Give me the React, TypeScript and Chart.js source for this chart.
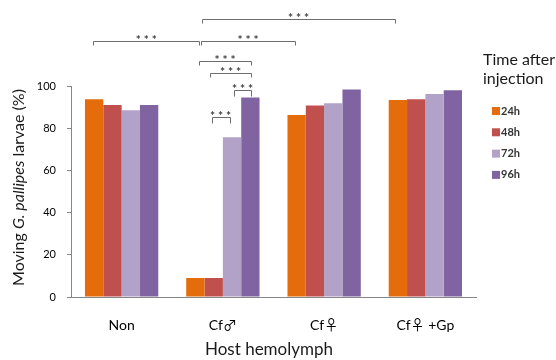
import React, { useEffect, useRef } from 'react';
import { Chart, registerables } from 'chart.js';

Chart.register(...registerables);

// ---- data ----
const categories = ['Non', 'Cf♂', 'Cf♀', 'Cf♀ +Gp'];
const seriesLabels = ['24h', '48h', '72h', '96h'];
const values24h = [93.7, 9.0, 86.3, 93.4];
const values48h = [91.0, 9.0, 90.7, 93.7];
const values72h = [88.5, 75.7, 91.8, 96.2];
const values96h = [91.0, 94.6, 98.4, 98.0];
const yTicks = [0, 20, 40, 60, 80, 100];
const legendTitle = ['Time after', 'injection'];
const xTitle = 'Host hemolymph';
const yTitleParts = [
  { text: 'Moving ', italic: false },
  { text: 'G. pallipes', italic: true },
  { text: ' larvae (%)', italic: false },
];
// significance brackets: endpoints as [category index, series index], height in axis units
const brackets = [
  { from: [0, 0], to: [1, 0], level: 121.5, label: '***' },
  { from: [1, 0], to: [3, 0], level: 131.6, label: '***' },
  { from: [1, 0], to: [2, 0], level: 121.5, label: '***' },
  { from: [1, 0], to: [1, 3], level: 112.0, label: '***' },
  { from: [1, 1], to: [1, 3], level: 106.0, label: '***' },
  { from: [1, 2], to: [1, 3], level: 98.1, label: '***' },
  { from: [1, 1], to: [1, 2], level: 85.3, label: '***' },
];

// ---- styles ----
const seriesColors = ['#E46C0A', '#C0504D', '#B3A2C7', '#8064A2'];
const bracketNudges = [
  [-1, 4], [6.5, -2.5], [6, -2], [4, 0.5], [-3.5, 0.5], [2, 0.5], [-2, -2.5],
];
const bracketDrops = [4, 4, 4, 4, 4, 6, 6];
const FONT = 'Lato, "Open Sans", sans-serif';
const CAT_FONT = 'Lato, "Noto Sans CJK SC", sans-serif';

const overlayPlugin = {
  id: 'overlay',
  afterDraw(chart: any) {
    const ctx = chart.ctx as CanvasRenderingContext2D;
    const y = chart.scales.y;
    ctx.save();

    // significance brackets
    ctx.lineWidth = 1;
    ctx.strokeStyle = '#6e6e6e';
    brackets.forEach((b, i) => {
      const x1 = chart.getDatasetMeta(b.from[1]).data[b.from[0]].x + bracketNudges[i][0];
      const x2 = chart.getDatasetMeta(b.to[1]).data[b.to[0]].x + bracketNudges[i][1];
      const yy = Math.round(y.getPixelForValue(b.level)) + 0.5;
      const drop = bracketDrops[i];
      ctx.beginPath();
      ctx.moveTo(Math.round(x1) + 0.5, yy + drop);
      ctx.lineTo(Math.round(x1) + 0.5, yy);
      ctx.lineTo(Math.round(x2) + 0.5, yy);
      ctx.lineTo(Math.round(x2) + 0.5, yy + drop);
      ctx.stroke();
      ctx.fillStyle = '#404040';
      ctx.font = `bold 12px ${FONT}`;
      ctx.textAlign = 'center';
      ctx.textBaseline = 'alphabetic';
      ctx.fillText(b.label.split('').join(' '), (x1 + x2) / 2, yy + 2);
    });

    // y axis title (mixed italic)
    ctx.translate(18.5, chart.chartArea.top + (chart.chartArea.bottom - chart.chartArea.top) / 2 - 4);
    ctx.rotate(-Math.PI / 2);
    ctx.fillStyle = '#1a1a1a';
    ctx.textBaseline = 'middle';
    ctx.textAlign = 'left';
    const fonts = yTitleParts.map((p) => `${p.italic ? 'italic ' : ''}16px ${FONT}`);
    let total = 0;
    yTitleParts.forEach((p, i) => { ctx.font = fonts[i]; total += ctx.measureText(p.text).width; });
    let cx = -total / 2;
    yTitleParts.forEach((p, i) => {
      ctx.font = fonts[i];
      ctx.fillText(p.text, cx, 0);
      cx += ctx.measureText(p.text).width;
    });
    ctx.restore();

    ctx.save();
    // x axis title
    ctx.fillStyle = '#1a1a1a';
    ctx.font = `17px ${FONT}`;
    ctx.textAlign = 'center';
    ctx.textBaseline = 'middle';
    ctx.fillText(xTitle, 269, 350);

    // legend
    ctx.textAlign = 'left';
    ctx.font = `16px ${FONT}`;
    legendTitle.forEach((t, i) => ctx.fillText(t, 483, 60 + i * 18.5));
    ctx.font = `bold 11px ${FONT}`;
    chart.data.datasets.forEach((ds: any, i: number) => {
      const cy = 111 + i * 21.3;
      ctx.fillStyle = ds.backgroundColor;
      ctx.fillRect(492, cy - 4, 8, 8);
      ctx.fillStyle = '#333';
      ctx.fillText(ds.label, 501, cy);
    });
    ctx.restore();
  },
};

export default function App() {
  const ref = useRef<HTMLCanvasElement | null>(null);
  useEffect(() => {
    if (!ref.current) return;
    const seriesValues = [values24h, values48h, values72h, values96h];
    const chart = new Chart(ref.current, {
      type: 'bar',
      data: {
        labels: categories,
        datasets: seriesLabels.map((label, i) => ({
          label,
          data: seriesValues[i],
          backgroundColor: seriesColors[i],
          borderWidth: 0,
          categoryPercentage: 0.724,
          barPercentage: 1,
        })),
      },
      options: {
        animation: false,
        responsive: false,
        layout: { padding: { left: 0, right: 80, top: 86, bottom: 0 } },
        plugins: {
          legend: { display: false },
          tooltip: { enabled: false },
        },
        scales: {
          x: {
            offset: true,
            grid: { display: false },
            border: { display: true, color: '#868686', width: 1 },
            ticks: {
              font: { family: CAT_FONT, size: 14 },
              color: '#000',
              padding: 12,
              maxRotation: 0,
              autoSkip: false,
            },
            afterFit: (s: any) => { s.height = 63; },
          },
          y: {
            min: 0,
            max: 100,
            afterBuildTicks: (s: any) => { s.ticks = yTicks.map((v) => ({ value: v })); },
            grid: { display: true, drawOnChartArea: false, drawTicks: true, tickLength: 4, color: '#868686' },
            border: { display: true, color: '#868686', width: 1 },
            ticks: { font: { family: FONT, size: 11 }, color: '#000', padding: 11 },
            afterFit: (s: any) => { s.width = 71; },
          },
        },
      },
      plugins: [overlayPlugin],
    } as any);
    return () => chart.destroy();
  }, []);
  return (
    <div style={{ position: 'absolute', left: 0, top: 0, width: 556, height: 360, background: '#fff' }}>
      <canvas ref={ref} width={556} height={360} />
    </div>
  );
}
